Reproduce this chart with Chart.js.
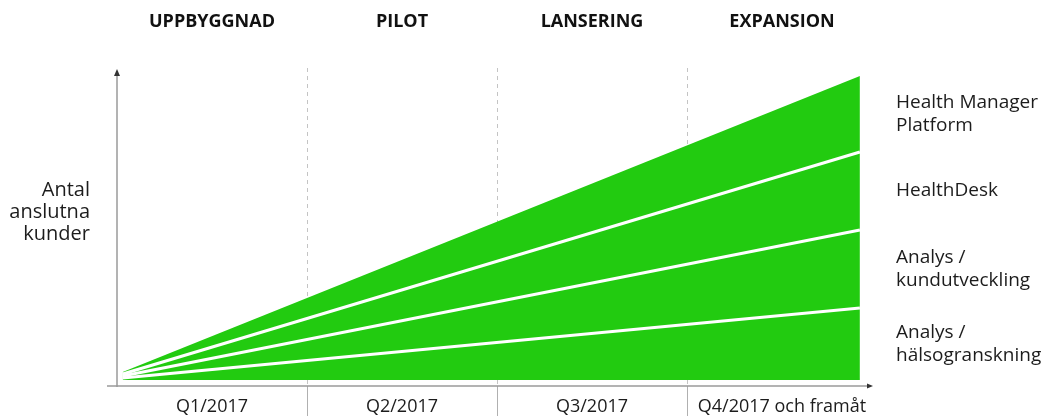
<!DOCTYPE html>
<html>
<head>
<meta charset="utf-8">
<script src="https://cdn.jsdelivr.net/npm/chart.js@4/dist/chart.umd.min.js"></script>
<style>
  body { margin: 0; background: #fff; }
  #wrap { width: 1045px; height: 416px; }
</style>
</head>
<body>
<div id="wrap"><canvas id="grafico"></canvas></div>
<script>
// faser och kvartal
const faser = ['UPPBYGGNAD', 'PILOT', 'LANSERING', 'EXPANSION'];
const kvartal = ['Q1/2017', 'Q2/2017', 'Q3/2017', 'Q4/2017 och framåt'];

// tidpunkter (i kvartal) för start och slut på ytorna
const tidpunkter = [0.03, 3.91];

// värden per produkt (staplade), start och slut
const halsogranskning = [2, 72];
const kundutveckling = [2, 78];
const healthDesk = [2, 78];
const healthManager = [2, 76];

const produktNamn = [
    ['Analys /', 'hälsogranskning'],
    ['Analys /', 'kundutveckling'],
    ['HealthDesk'],
    ['Health Manager', 'Platform']
];
const yAxelTitel = ['Antal', 'anslutna', 'kunder'];

const gron = '#22cb10';
const gra = '#9a9a9a';
const textFarg = '#1c1c1c';
const typsnitt = '"Open Sans", sans-serif';

function punkter(varden) {
    const data = [];
    for (let i = 0; i < tidpunkter.length; i++) {
        data.push({ x: tidpunkter[i], y: varden[i] });
    }
    return data;
}

const serier = [halsogranskning, kundutveckling, healthDesk, healthManager];

// mitten av varje band vid högra kanten, för etiketterna
function bandMitt() {
    const mitt = [];
    let summa = 0;
    for (let i = 0; i < serier.length; i++) {
        const v = serier[i][serier[i].length - 1];
        mitt.push(summa + v / 2);
        summa += v;
    }
    return mitt;
}

// ingen extra luft över/under för y-axlarnas etiketter
function ingenPadding(scale) {
    scale.paddingTop = 0;
    scale.paddingBottom = 0;
}

const axelPilar = {
    id: 'axelPilar',
    afterDraw(chart) {
        const ctx = chart.ctx;
        const a = chart.chartArea;
        ctx.save();
        ctx.strokeStyle = gra;
        ctx.fillStyle = '#333';
        ctx.lineWidth = 1.5;
        // y-axel
        ctx.beginPath();
        ctx.moveTo(a.left, a.bottom + 1);
        ctx.lineTo(a.left, a.top + 4);
        ctx.stroke();
        ctx.beginPath();
        ctx.moveTo(a.left, a.top + 1);
        ctx.lineTo(a.left - 3, a.top + 8);
        ctx.lineTo(a.left + 3, a.top + 8);
        ctx.closePath();
        ctx.fill();
        // x-axel
        ctx.beginPath();
        ctx.moveTo(a.left - 10, a.bottom);
        ctx.lineTo(a.right - 8, a.bottom);
        ctx.stroke();
        ctx.beginPath();
        ctx.moveTo(a.right - 4, a.bottom);
        ctx.lineTo(a.right - 10, a.bottom - 2.5);
        ctx.lineTo(a.right - 10, a.bottom + 2.5);
        ctx.closePath();
        ctx.fill();
        ctx.restore();
    }
};

const datasets = serier.map((s, i) => ({
    data: punkter(s),
    xAxisID: 'x',
    yAxisID: 'y',
    fill: i === 0 ? 'origin' : '-1',
    backgroundColor: gron,
    borderColor: i < serier.length - 1 ? '#ffffff' : gron,
    borderWidth: i < serier.length - 1 ? 3 : 0,
    pointRadius: 0,
    tension: 0
}));

new Chart(document.getElementById('grafico'), {
    type: 'line',
    data: { datasets: datasets },
    plugins: [axelPilar],
    options: {
        responsive: true,
        maintainAspectRatio: false,
        animation: false,
        layout: { padding: 0 },
        plugins: { legend: { display: false }, tooltip: { enabled: false } },
        scales: {
            x: {
                type: 'linear',
                display: false,
                min: 0,
                max: 4
            },
            xq: {
                type: 'category',
                position: 'bottom',
                labels: kvartal,
                offset: true,
                grid: {
                    offset: true,
                    drawOnChartArea: true,
                    drawTicks: true,
                    tickLength: 30,
                    lineWidth: 1,
                    color: (c) => (c.index > 0 && c.index < 4 ? '#c4c4c4' : 'rgba(0,0,0,0)'),
                    tickColor: (c) => (c.index > 0 && c.index < 4 ? '#b0b0b0' : 'rgba(0,0,0,0)'),
                    tickBorderDash: [1, 0]
                },
                border: { display: false, dash: [4, 4] },
                ticks: {
                    color: textFarg,
                    font: { family: typsnitt, size: 18 },
                    padding: -20,
                    maxRotation: 0,
                    autoSkip: false
                },
                afterFit: (scale) => { scale.height = 30; }
            },
            xtop: {
                type: 'category',
                position: 'top',
                labels: faser,
                offset: true,
                grid: { display: false, drawTicks: false },
                border: { display: false },
                ticks: {
                    color: '#111',
                    font: { family: typsnitt, size: 18, weight: 'bold' },
                    padding: 35,
                    maxRotation: 0,
                    autoSkip: false
                },
                afterFit: (scale) => { scale.height = 68; }
            },
            y: {
                type: 'linear',
                position: 'left',
                stacked: true,
                min: -6,
                max: 312,
                grid: { display: false, drawTicks: false },
                border: { display: false },
                afterBuildTicks: (scale) => { scale.ticks = [{ value: 168 }]; },
                ticks: {
                    color: textFarg,
                    font: { family: typsnitt, size: 20, lineHeight: 1.1 },
                    padding: 27,
                    callback: () => yAxelTitel
                },
                afterFit: (scale) => { scale.width = 117; ingenPadding(scale); }
            },
            y2: {
                type: 'linear',
                position: 'right',
                min: -6,
                max: 312,
                grid: { display: false, drawTicks: false },
                border: { display: false },
                afterBuildTicks: (scale) => {
                    scale.ticks = bandMitt().map((v) => ({ value: v }));
                },
                ticks: {
                    color: textFarg,
                    font: { family: typsnitt, size: 19, lineHeight: 1.21 },
                    padding: 19,
                    callback: (value, index) => produktNamn[index]
                },
                afterFit: (scale) => { scale.width = 168; ingenPadding(scale); }
            }
        }
    }
});
</script>
</body>
</html>
